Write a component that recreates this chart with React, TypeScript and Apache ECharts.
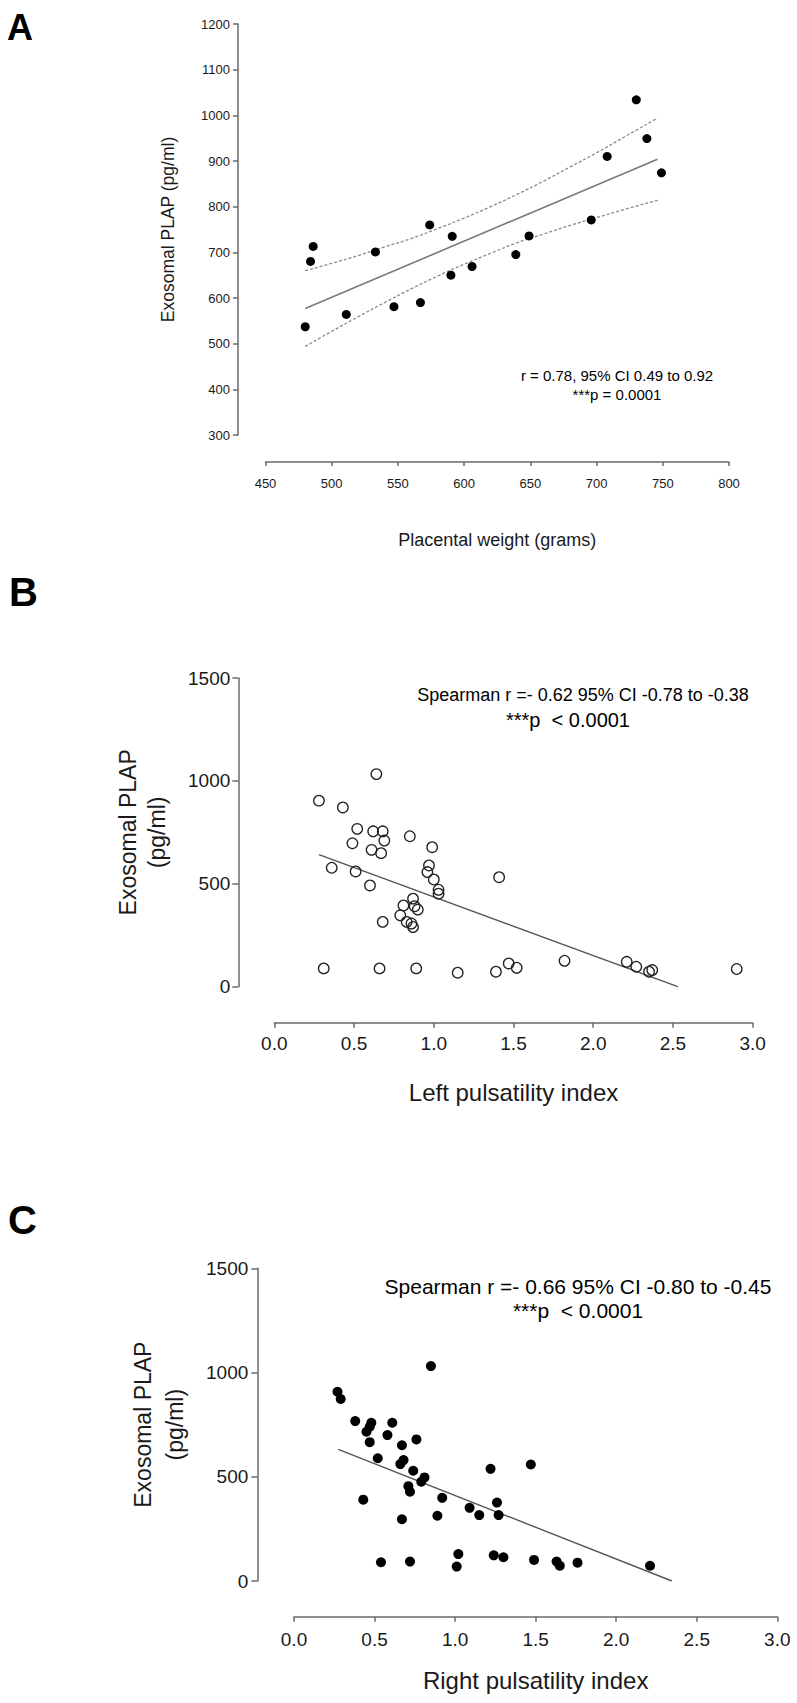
import React, { useEffect, useRef } from "react";
import * as echarts from "echarts";

const FONT = "'Liberation Sans', Arial, Helvetica, sans-serif";

// ---------- Panel A : placental weight vs exosomal PLAP ----------
const weightA = [480, 484, 486, 511, 533, 547, 567, 574, 590, 591, 606, 639, 649, 696, 708, 730, 738, 749];
const plapA = [537, 680, 713, 564, 701, 581, 590, 760, 650, 735, 669, 695, 736, 771, 910, 1034, 949, 874];
const fitAx = [480, 746];
const fitAy = [577, 904];
const ciAx = [480, 500, 520, 540, 560, 580, 600, 620, 640, 660, 680, 700, 720, 746];
const ciAUpper = [660, 676, 693, 712, 730, 752, 775, 800, 827, 856, 887, 918, 951, 994];
const ciALower = [494, 527, 559, 590, 620, 648, 674, 698, 721, 740, 759, 776, 793, 814];

// ---------- Panel B : left pulsatility index ----------
const leftPI = [
  0.28, 0.43, 0.52, 0.62, 0.68, 0.69, 0.49, 0.61, 0.67, 0.36, 0.51, 0.6, 0.68, 0.31, 0.66,
  0.64, 0.85, 0.99, 0.97, 0.96, 1.0, 1.03, 1.03, 1.41, 0.87, 0.81, 0.88, 0.9, 0.79, 0.83,
  0.86, 0.87, 0.89, 1.15, 1.39, 1.47, 1.52, 1.82, 2.21, 2.27, 2.35, 2.37, 2.9,
];
const plapB = [
  904, 871, 767, 755, 755, 710, 697, 665, 649, 578, 560, 492, 315, 89, 89,
  1033, 731, 678, 589, 557, 521, 471, 452, 532, 428, 395, 391, 375, 347, 315,
  307, 290, 89, 68, 73, 113, 92, 126, 121, 97, 73, 81, 86,
];
const fitBx = [0.28, 2.53];
const fitBy = [642, 0];

// ---------- Panel C : right pulsatility index ----------
const rightPI = [
  0.27, 0.29, 0.38, 0.48, 0.47, 0.45, 0.61, 0.58, 0.47, 0.67, 0.76, 0.52, 0.68, 0.66,
  0.74, 0.81, 0.79, 0.71, 0.72, 0.43, 0.92, 1.09, 1.15, 0.89, 0.67, 1.22, 1.26, 1.27,
  0.54, 0.72, 1.02, 1.01, 1.24, 1.3, 1.47, 1.49, 1.63, 1.65, 1.76, 2.21, 0.85,
];
const plapC = [
  908, 873, 767, 759, 740, 716, 759, 700, 666, 651, 679, 589, 580, 561,
  529, 497, 476, 455, 428, 390, 399, 351, 316, 313, 296, 538, 376, 316,
  90, 93, 129, 69, 123, 114, 559, 101, 93, 73, 88, 73, 1031,
];
const fitCx = [0.275, 2.346];
const fitCy = [631, 0];

const zip = (xs: number[], ys: number[]) => xs.map((x, i) => [x, ys[i]]);

const AXIS_COLOR = "#6a6a6a";
const TEXT_COLOR = "#1a1a1a";

function makeX(opts: any) {
  return {
    type: "value",
    gridIndex: opts.grid,
    position: "bottom",
    min: opts.min,
    max: opts.max,
    interval: opts.interval,
    offset: opts.offset,
    axisLine: { show: true, onZero: false, lineStyle: { color: AXIS_COLOR, width: 1.5 } },
    axisTick: { show: true, length: opts.tick, lineStyle: { color: AXIS_COLOR, width: 1.5 } },
    splitLine: { show: false },
    axisLabel: {
      show: true,
      margin: opts.labelMargin,
      fontSize: opts.labelSize,
      fontFamily: FONT,
      color: TEXT_COLOR,
      showMinLabel: true,
      showMaxLabel: true,
      formatter: opts.formatter,
    },
    name: opts.name,
    nameLocation: "middle",
    nameGap: opts.nameGap,
    nameTextStyle: { fontSize: opts.nameSize, fontFamily: FONT, color: TEXT_COLOR, verticalAlign: "middle" },
  };
}

function makeY(opts: any) {
  return {
    type: "value",
    gridIndex: opts.grid,
    position: "left",
    min: opts.min,
    max: opts.max,
    interval: opts.interval,
    offset: opts.offset,
    axisLine: { show: true, onZero: false, lineStyle: { color: AXIS_COLOR, width: 1.5 } },
    axisTick: { show: true, length: opts.tick, lineStyle: { color: AXIS_COLOR, width: 1.5 } },
    splitLine: { show: false },
    axisLabel: {
      show: true,
      margin: opts.labelMargin,
      fontSize: opts.labelSize,
      fontFamily: FONT,
      color: TEXT_COLOR,
      showMinLabel: true,
      showMaxLabel: true,
      formatter: (v: number) => String(v),
    },
    name: opts.name,
    nameLocation: "middle",
    nameGap: opts.nameGap,
    nameRotate: 90,
    nameTextStyle: {
      fontSize: opts.nameSize,
      fontFamily: FONT,
      color: TEXT_COLOR,
      verticalAlign: "middle",
      align: "center",
      lineHeight: opts.lineHeight,
    },
  };
}

function label(text: string, x: number, y: number, size: number, bold = false, align = "center") {
  return {
    type: "text",
    x,
    y,
    silent: true,
    style: {
      text,
      fontSize: size,
      fontFamily: FONT,
      fontWeight: bold ? "bold" : "normal",
      fill: "#000",
      align,
      verticalAlign: "middle",
    },
  };
}

export default function App() {
  const ref = useRef<HTMLDivElement>(null);

  useEffect(() => {
    if (!ref.current) return;
    const chart = echarts.init(ref.current, undefined, { renderer: "svg" });
    const fmt1 = (v: number) => v.toFixed(1);

    chart.setOption({
      animation: false,
      backgroundColor: "#ffffff",
      grid: [
        { left: 265.5, top: 24, width: 463.5, height: 411 },
        { left: 274.3, top: 678, width: 478.4, height: 308.7 },
        { left: 294, top: 1268.3, width: 483.3, height: 312.7 },
      ],
      xAxis: [
        makeX({
          grid: 0, min: 450, max: 800, interval: 50, offset: 27, tick: 4,
          labelMargin: 15, labelSize: 13, formatter: (v: number) => String(v),
          name: "Placental weight (grams)", nameGap: 78, nameSize: 18,
        }),
        makeX({
          grid: 1, min: 0, max: 3, interval: 0.5, offset: 36, tick: 5,
          labelMargin: 11, labelSize: 19, formatter: fmt1,
          name: "Left pulsatility index", nameGap: 70, nameSize: 24,
        }),
        makeX({
          grid: 2, min: 0, max: 3, interval: 0.5, offset: 35.7, tick: 5,
          labelMargin: 13, labelSize: 19, formatter: fmt1,
          name: "Right pulsatility index", nameGap: 63.5, nameSize: 24,
        }),
      ],
      yAxis: [
        makeY({
          grid: 0, min: 300, max: 1200, interval: 100, offset: 27.5, tick: 5,
          labelMargin: 8, labelSize: 13, name: "Exosomal PLAP (pg/ml)", nameGap: 70, nameSize: 17.5, lineHeight: 20,
        }),
        makeY({
          grid: 1, min: 0, max: 1500, interval: 500, offset: 36, tick: 6,
          labelMargin: 8, labelSize: 19, name: "Exosomal PLAP\n(pg/ml)", nameGap: 95.5, nameSize: 23, lineHeight: 29,
        }),
        makeY({
          grid: 2, min: 0, max: 1500, interval: 500, offset: 36.7, tick: 6,
          labelMargin: 9, labelSize: 19, name: "Exosomal PLAP\n(pg/ml)", nameGap: 98, nameSize: 23, lineHeight: 32,
        }),
      ],
      series: [
        // Panel A
        {
          type: "line", xAxisIndex: 0, yAxisIndex: 0, data: zip(ciAx, ciAUpper), symbol: "none", smooth: true,
          lineStyle: { color: "#8a8a8a", width: 1.3, type: [3, 2] }, z: 1, silent: true,
        },
        {
          type: "line", xAxisIndex: 0, yAxisIndex: 0, data: zip(ciAx, ciALower), symbol: "none", smooth: true,
          lineStyle: { color: "#8a8a8a", width: 1.3, type: [3, 2] }, z: 1, silent: true,
        },
        {
          type: "line", xAxisIndex: 0, yAxisIndex: 0, data: zip(fitAx, fitAy), symbol: "none",
          lineStyle: { color: "#7a7a7a", width: 1.6 }, z: 2, silent: true,
        },
        {
          type: "scatter", xAxisIndex: 0, yAxisIndex: 0, data: zip(weightA, plapA), symbol: "circle", symbolSize: 9,
          itemStyle: { color: "#000", opacity: 1 }, z: 3, silent: true,
        },
        // Panel B
        {
          type: "line", xAxisIndex: 1, yAxisIndex: 1, data: zip(fitBx, fitBy), symbol: "none",
          lineStyle: { color: "#555", width: 1.4 }, z: 2, silent: true,
        },
        {
          type: "scatter", xAxisIndex: 1, yAxisIndex: 1, data: zip(leftPI, plapB), symbol: "circle", symbolSize: 10.5,
          itemStyle: { color: "rgba(255,255,255,0)", borderColor: "#222", borderWidth: 1.3, opacity: 1 },
          z: 3, silent: true,
        },
        // Panel C
        {
          type: "line", xAxisIndex: 2, yAxisIndex: 2, data: zip(fitCx, fitCy), symbol: "none",
          lineStyle: { color: "#555", width: 1.4 }, z: 2, silent: true,
        },
        {
          type: "scatter", xAxisIndex: 2, yAxisIndex: 2, data: zip(rightPI, plapC), symbol: "circle", symbolSize: 10,
          itemStyle: { color: "#000", opacity: 1 }, z: 3, silent: true,
        },
      ],
      graphic: [
        label("A", 7, 27, 36, true, "left"),
        label("B", 9, 592, 40, true, "left"),
        label("C", 8, 1220, 40, true, "left"),
        label("r = 0.78, 95% CI 0.49 to 0.92", 617, 375, 15),
        label("***p = 0.0001", 617, 394, 15),
        label("Spearman r =- 0.62 95% CI -0.78 to -0.38", 583, 695, 18),
        label("***p  < 0.0001", 568, 720, 20),
        label("Spearman r =- 0.66 95% CI -0.80 to -0.45", 578, 1286, 21),
        label("***p  < 0.0001", 578, 1310, 21),
      ],
    });

    return () => chart.dispose();
  }, []);

  return (
    <div
      ref={ref}
      style={{ position: "absolute", left: 0, top: 0, width: 797, height: 1703, background: "#fff" }}
    />
  );
}
